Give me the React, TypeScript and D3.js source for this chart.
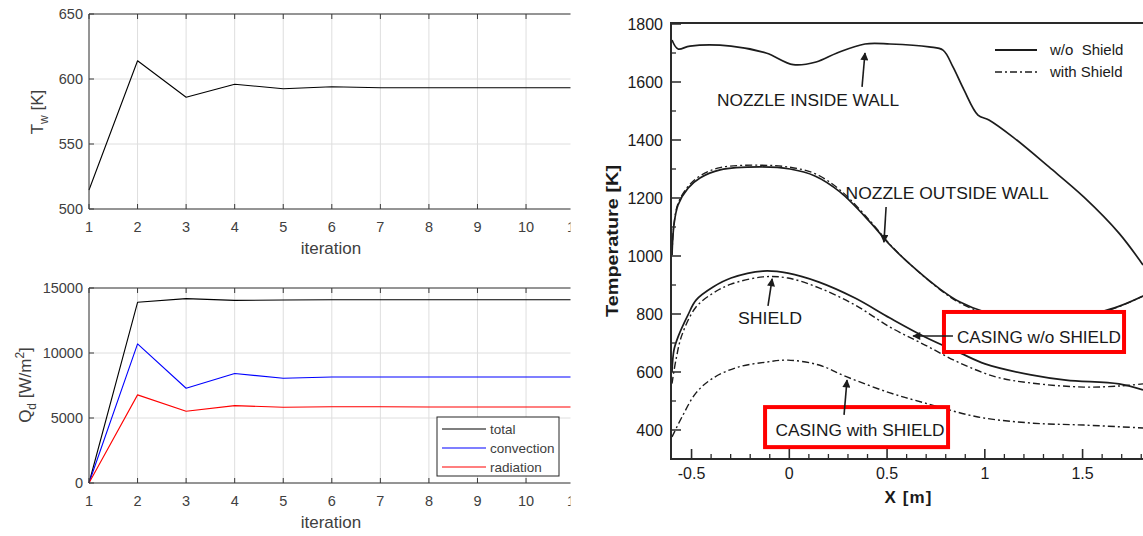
import React from "react";
import * as d3 from "d3";

// ---------- Left: iteration history ----------
const iterations = [1, 2, 3, 4, 5, 6, 7, 8, 9, 10, 11];
const wallTemp = [514.6, 614, 586, 596, 592.5, 594, 593.3, 593.3, 593.3, 593.3, 593.3];
const heatTotal = [0, 13900, 14180, 14050, 14080, 14100, 14100, 14100, 14100, 14100, 14100];
const heatConvection = [0, 10700, 7290, 8420, 8060, 8150, 8150, 8150, 8150, 8150, 8150];
const heatRadiation = [0, 6780, 5520, 5950, 5830, 5860, 5860, 5850, 5850, 5850, 5850];
const tempTicks = [500, 550, 600, 650];
const heatTicks = [0, 5000, 10000, 15000];
const heatSeriesNames = ["total", "convection", "radiation"];
const heatSeriesColors = ["#000000", "#0000ff", "#ff0000"];

// ---------- Right: temperature along X ----------
const insideX = [-0.6, -0.569, -0.508, -0.298, -0.119, 0.02, 0.137, 0.244, 0.387, 0.515, 0.715, 0.786, 0.837, 0.894, 0.965, 1.021, 1.144, 1.328, 1.507, 1.686, 1.809];
const insideT = [1745, 1714, 1724, 1724, 1700, 1660, 1669, 1700, 1731, 1731, 1721, 1710, 1652, 1572, 1486, 1469, 1410, 1307, 1203, 1079, 969];
const outsideX = [-0.6, -0.59, -0.569, -0.518, -0.457, -0.354, -0.15, 0.004, 0.131, 0.259, 0.413, 0.515, 0.617, 0.771, 0.873, 1.001, 1.129, 1.282, 1.436, 1.589, 1.692, 1.809];
const outsideT = [1003, 1107, 1176, 1234, 1269, 1297, 1307, 1300, 1276, 1221, 1117, 1038, 972, 886, 841, 807, 793, 790, 793, 807, 828, 862];
const outsideShieldX = [-0.6, -0.59, -0.569, -0.518, -0.457, -0.354, -0.15, 0.004, 0.131, 0.259, 0.413, 0.515, 0.617, 0.771, 0.873, 1.001, 1.129, 1.282, 1.436, 1.589, 1.692, 1.809];
const outsideShieldT = [1003, 1110, 1182, 1240, 1276, 1305, 1313, 1306, 1284, 1228, 1121, 1040, 972, 884, 838, 803, 788, 785, 789, 805, 827, 862];
const casingNoShieldX = [-0.6, -0.59, -0.569, -0.518, -0.477, -0.39, -0.298, -0.135, -0.007, 0.152, 0.336, 0.515, 0.694, 0.873, 1.001, 1.236, 1.415, 1.686, 1.809];
const casingNoShieldT = [600, 676, 721, 797, 848, 893, 924, 948, 941, 910, 855, 786, 721, 666, 628, 590, 572, 559, 538];
const shieldX = [-0.6, -0.58, -0.549, -0.477, -0.39, -0.298, -0.135, -0.007, 0.152, 0.336, 0.515, 0.694, 0.873, 1.057, 1.236, 1.507, 1.692, 1.809];
const shieldT = [560, 641, 728, 824, 872, 903, 928, 924, 890, 831, 755, 693, 631, 583, 562, 548, 552, 559];
const casingShieldX = [-0.6, -0.549, -0.477, -0.39, -0.262, -0.119, -0.007, 0.152, 0.295, 0.515, 0.694, 0.965, 1.236, 1.507, 1.809];
const casingShieldT = [376, 445, 528, 579, 617, 634, 641, 624, 583, 528, 493, 445, 424, 417, 407];
const tempMajorTicks = [400, 600, 800, 1000, 1200, 1400, 1600, 1800];
const tempMinorTicks = [500, 700, 900, 1100, 1300, 1500, 1700];
const xMajorTicks = [-0.5, 0, 0.5, 1, 1.5];
const xMajorLabels = ["-0.5", "0", "0.5", "1", "1.5"];
const xMinorTicks = [-0.4, -0.3, -0.2, -0.1, 0.1, 0.2, 0.3, 0.4, 0.6, 0.7, 0.8, 0.9, 1.1, 1.2, 1.3, 1.4, 1.6, 1.7, 1.8];
const legendLabels = ["w/o  Shield", "with Shield"];

// annotations (data coordinates)
const noteTexts = ["NOZZLE INSIDE WALL", "NOZZLE OUTSIDE WALL", "SHIELD", "CASING w/o SHIELD", "CASING with SHIELD"];
const noteX = [0.096, 0.807, -0.099, 1.277, 0.362];
const noteT = [1538, 1217, 786, 721, 400];
const noteWidth = [182, 203, 64, 164, 169];
const arrowFromX = [0.372, 0.495, -0.109, 0.837, 0.28];
const arrowFromT = [1583, 1169, 828, 724, 452];
const arrowToX = [0.387, 0.484, -0.088, 0.633, 0.295];
const arrowToT = [1700, 1048, 921, 724, 572];
const boxX0 = [0.791, -0.124];
const boxX1 = [1.712, 0.812];
const boxT0 = [807, 479];
const boxT1 = [669, 341];

const FONT = "'Liberation Sans', Arial, Helvetica, sans-serif";
const DASHDOT = "7 3 2 3";

function LeftPanel({ top, bottom, yScaleDomain, ticks, series, colors, ylabel, legend }: any) {
  const x = d3.scaleLinear().domain([1, 11]).range([89, 574.6]);
  const y = d3.scaleLinear().domain(yScaleDomain).range([bottom, top]);
  const line = d3.line<number>().x((_, i) => x(iterations[i])).y((d) => y(d));
  const axisColor = "#3a3a3a";
  const textColor = "#404040";
  return (
    <g>
      {iterations.map((it) => (
        <line key={"gx" + it} x1={x(it)} x2={x(it)} y1={top} y2={bottom} stroke="#dedede" strokeWidth={1} />
      ))}
      {ticks.map((t: number) => (
        <line key={"gy" + t} x1={89} x2={575} y1={y(t)} y2={y(t)} stroke="#dedede" strokeWidth={1} />
      ))}
      {series.map((s: number[], i: number) => (
        <path key={"s" + i} d={line(s) || ""} fill="none" stroke={colors[i]} strokeWidth={1.1} strokeLinejoin="round" />
      ))}
      <line x1={89} x2={575} y1={top} y2={top} stroke={axisColor} strokeWidth={1} />
      <line x1={89} x2={575} y1={bottom} y2={bottom} stroke={axisColor} strokeWidth={1} />
      <line x1={89} x2={89} y1={top} y2={bottom} stroke={axisColor} strokeWidth={1} />
      {iterations.map((it) => (
        <g key={"tx" + it}>
          <line x1={x(it)} x2={x(it)} y1={bottom} y2={bottom - 5} stroke={axisColor} />
          <line x1={x(it)} x2={x(it)} y1={top} y2={top + 5} stroke={axisColor} />
          <text x={x(it)} y={bottom + 23} textAnchor="middle" fontSize={14.5} fill={textColor} fontFamily={FONT}>
            {it}
          </text>
        </g>
      ))}
      {ticks.map((t: number) => (
        <g key={"ty" + t}>
          <line x1={89} x2={94} y1={y(t)} y2={y(t)} stroke={axisColor} />
          <text x={83} y={y(t)} dy="0.36em" textAnchor="end" fontSize={14.5} fill={textColor} fontFamily={FONT}>
            {t}
          </text>
        </g>
      ))}
      <text x={331} y={bottom + 45} textAnchor="middle" fontSize={17} fill={textColor} fontFamily={FONT}>
        iteration
      </text>
      {ylabel}
      {legend}
    </g>
  );
}

function RightPanel() {
  const x = d3.scaleLinear().domain([-0.6, 1.81]).range([672, 1143.2]);
  const y = d3.scaleLinear().domain([300, 1800]).range([459, 24]);
  const mk = (xs: number[], ts: number[]) =>
    d3
      .line<number>()
      .x((d) => x(d))
      .y((_, i) => y(ts[i]))
      .curve(d3.curveCatmullRom.alpha(0.5))(xs) || "";
  const ink = "#1c1c1c";
  const frame = "#2a2a2a";
  return (
    <g>
      <defs>
        <marker id="ah" viewBox="0 0 10 10" refX="9" refY="5" markerWidth="9" markerHeight="8" markerUnits="userSpaceOnUse" orient="auto">
          <path d="M0,0 L10,5 L0,10 z" fill={ink} />
        </marker>
        <clipPath id="rclip">
          <rect x={672} y={24} width={480} height={435} />
        </clipPath>
      </defs>
      <g clipPath="url(#rclip)">
        <path d={mk(insideX, insideT)} fill="none" stroke={ink} strokeWidth={1.7} />
        <path d={mk(outsideShieldX, outsideShieldT)} fill="none" stroke={ink} strokeWidth={1.3} strokeDasharray={DASHDOT} />
        <path d={mk(outsideX, outsideT)} fill="none" stroke={ink} strokeWidth={1.7} />
        <path d={mk(casingNoShieldX, casingNoShieldT)} fill="none" stroke={ink} strokeWidth={1.7} />
        <path d={mk(shieldX, shieldT)} fill="none" stroke={ink} strokeWidth={1.4} strokeDasharray={DASHDOT} />
        <path d={mk(casingShieldX, casingShieldT)} fill="none" stroke={ink} strokeWidth={1.4} strokeDasharray={DASHDOT} />
      </g>
      <line x1={671} x2={1143} y1={y(1800) - 1} y2={y(1800) - 1} stroke={frame} strokeWidth={2} />
      <line x1={671} x2={1143} y1={y(300)} y2={y(300)} stroke={frame} strokeWidth={2} />
      <line x1={671} x2={671} y1={y(1800) - 2} y2={y(300) + 1} stroke={frame} strokeWidth={2} />
      {tempMajorTicks.map((t) => (
        <g key={"ym" + t}>
          <line x1={671} x2={681} y1={y(t)} y2={y(t)} stroke={frame} strokeWidth={1.5} />
          <text x={663} y={y(t)} dy="0.36em" textAnchor="end" fontSize={16} fill="#1a1a1a" fontFamily={FONT}>
            {t}
          </text>
        </g>
      ))}
      {tempMinorTicks.map((t) => (
        <line key={"yn" + t} x1={671} x2={676} y1={y(t)} y2={y(t)} stroke={frame} strokeWidth={1.3} />
      ))}
      {xMajorTicks.map((t, i) => (
        <g key={"xm" + t}>
          <line x1={x(t)} x2={x(t)} y1={y(300)} y2={y(300) - 10} stroke={frame} strokeWidth={1.6} />
          <text x={x(t)} y={y(300) + 20} textAnchor="middle" fontSize={16} fill="#1a1a1a" fontFamily={FONT}>
            {xMajorLabels[i]}
          </text>
        </g>
      ))}
      {xMinorTicks.map((t) => (
        <line key={"xn" + t} x1={x(t)} x2={x(t)} y1={y(300)} y2={y(300) - 5} stroke={frame} strokeWidth={1.3} />
      ))}
      <text
        transform={`translate(618,241) rotate(-90)`}
        textAnchor="middle"
        fontSize={17}
        fontWeight="bold"
        fill="#1a1a1a"
        fontFamily={FONT}
        textLength={152}
        lengthAdjust="spacingAndGlyphs"
      >
        Temperature [K]
      </text>
      <text x={908} y={503} textAnchor="middle" fontSize={17} fontWeight="bold" fill="#1a1a1a" fontFamily={FONT} textLength={47} lengthAdjust="spacing">
        X [m]
      </text>
      <line x1={995} x2={1037} y1={50} y2={50} stroke={ink} strokeWidth={2} />
      <line x1={995} x2={1037} y1={72} y2={72} stroke={ink} strokeWidth={1.4} strokeDasharray={DASHDOT} />
      {legendLabels.map((l, i) => (
        <text key={l} x={1050} y={55 + i * 22} fontSize={15} fill="#1a1a1a" fontFamily={FONT} style={{ whiteSpace: "pre" }}>
          {l}
        </text>
      ))}
      {boxX0.map((b, i) => (
        <rect
          key={"box" + i}
          x={x(b)}
          y={y(boxT0[i])}
          width={x(boxX1[i]) - x(b)}
          height={y(boxT1[i]) - y(boxT0[i])}
          fill="white"
          stroke="#ff0000"
          strokeWidth={4}
        />
      ))}
      {noteTexts.map((n, i) => (
        <g key={n}>
          <line
            x1={x(arrowFromX[i])}
            y1={y(arrowFromT[i])}
            x2={x(arrowToX[i])}
            y2={y(arrowToT[i])}
            stroke={ink}
            strokeWidth={1.6}
            markerEnd="url(#ah)"
          />
          <text
            x={x(noteX[i])}
            y={y(noteT[i])}
            dy="0.36em"
            textAnchor="middle"
            fontSize={16}
            fill="#1a1a1a"
            fontFamily={FONT}
            textLength={noteWidth[i]}
            lengthAdjust="spacingAndGlyphs"
          >
            {n}
          </text>
        </g>
      ))}
    </g>
  );
}

export default function App() {
  const textColor = "#404040";
  const legendEntries = heatSeriesNames.map((n, i) => ({ n, c: heatSeriesColors[i] }));
  return (
    <svg width={1143} height={536} style={{ position: "absolute", left: 0, top: 0, background: "white" }}>
      <rect x={0} y={0} width={1143} height={536} fill="white" />
      <defs>
        <clipPath id="lclip">
          <rect x={0} y={0} width={570.5} height={536} />
        </clipPath>
      </defs>
      <g clipPath="url(#lclip)">
        <LeftPanel
          top={14}
          bottom={209}
          yScaleDomain={[500, 650]}
          ticks={tempTicks}
          series={[wallTemp]}
          colors={["#000000"]}
          ylabel={
            <text transform="translate(43,112) rotate(-90)" textAnchor="middle" fontSize={17} fill={textColor} fontFamily={FONT}>
              T<tspan fontSize={12} dy={5}>w</tspan>
              <tspan dy={-5}> [K]</tspan>
            </text>
          }
        />
        <LeftPanel
          top={288}
          bottom={483}
          yScaleDomain={[0, 15000]}
          ticks={heatTicks}
          series={[heatTotal, heatConvection, heatRadiation]}
          colors={heatSeriesColors}
          ylabel={
            <text transform="translate(31,385) rotate(-90)" textAnchor="middle" fontSize={17} fill={textColor} fontFamily={FONT}>
              Q<tspan fontSize={12} dy={5}>d</tspan>
              <tspan dy={-5}> [W/m</tspan>
              <tspan fontSize={12} dy={-7}>2</tspan>
              <tspan dy={7}>]</tspan>
            </text>
          }
          legend={
            <g>
              <rect x={437} y={417} width={122} height={59} fill="white" stroke="#262626" strokeWidth={1} />
              {legendEntries.map((e, i) => (
                <g key={e.n}>
                  <line x1={442} x2={486} y1={429 + i * 19} y2={429 + i * 19} stroke={e.c} strokeWidth={1.1} />
                  <text x={490} y={429 + i * 19} dy="0.36em" fontSize={13.5} fill={textColor} fontFamily={FONT}>
                    {e.n}
                  </text>
                </g>
              ))}
            </g>
          }
        />
      </g>
      <RightPanel />
    </svg>
  );
}
